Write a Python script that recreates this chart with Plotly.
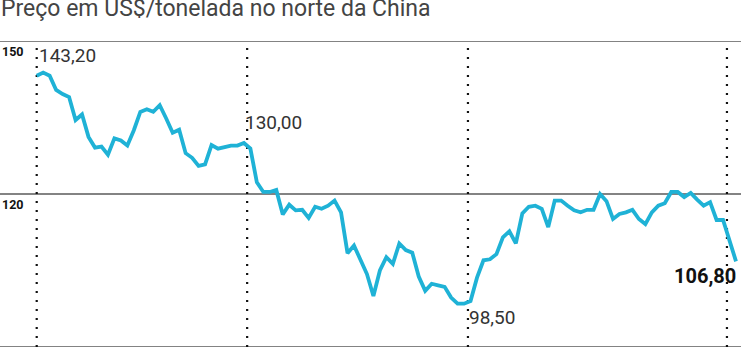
import plotly.graph_objects as go

# Weekly price, US$/tonelada (norte da China)
precos = [
    143.2, 143.8, 143.2, 140.4, 139.6, 139.0, 134.5, 135.6, 131.2, 129.1,
    129.3, 127.7, 130.9, 130.5, 129.5, 132.5, 136.1, 136.6, 136.1, 137.4,
    134.8, 132.0, 132.6, 128.0, 127.1, 125.5, 125.8, 129.6, 128.9, 129.2,
    129.5, 129.5, 130.0, 128.9, 122.3, 120.4, 120.4, 120.8, 116.0, 117.9,
    116.8, 116.9, 115.3, 117.5, 117.1, 117.7, 118.7, 116.4, 108.4, 109.9,
    107.2, 104.3, 100.0, 105.0, 107.6, 106.3, 110.3, 109.0, 108.5, 103.8,
    101.0, 102.4, 102.1, 101.8, 99.7, 98.5, 98.5, 99.0, 103.6, 107.0,
    107.2, 108.2, 111.5, 112.7, 110.3, 116.2, 117.5, 117.7, 117.1, 113.5,
    118.7, 118.7, 117.7, 116.8, 116.4, 116.9, 116.9, 120.0, 118.6, 115.1,
    116.1, 116.4, 116.9, 115.1, 114.1, 116.4, 117.7, 118.2, 120.4, 120.4,
    119.4, 120.2, 118.9, 117.7, 118.4, 114.9, 114.9, 110.8, 106.8,
]
semanas = list(range(len(precos)))

marcos = [0, 32.5, 66.6, 106.6]          # dotted reference lines (week position)
y_ticks = [150, 120]
y_tick_labels = ["150", "120"]
y_range = [90, 150]

destaques = [  # (week index, label, bold)
    (0, "143,20", False),
    (32, "130,00", False),
    (66, "98,50", False),
    (108, "106,80", True),
]

titulo = "Preço em US$/tonelada no norte da China"

LINE_COLOR = "#1fb2d6"
GRID_COLOR = "#5a5a5a"
TXT = "#333333"

fig = go.Figure()
fig.add_trace(go.Scatter(
    x=semanas, y=precos, mode="lines",
    line=dict(color=LINE_COLOR, width=3.8, shape="linear"),
    hoverinfo="skip", showlegend=False,
))

shapes = []
# horizontal rules
for v in [150, 120, 90]:
    shapes.append(dict(type="line", xref="paper", yref="y", x0=0, x1=0.988,
                       y0=v, y1=v, line=dict(color=GRID_COLOR, width=1.5), layer="below"))
# dotted vertical markers
for m in marcos:
    shapes.append(dict(type="line", xref="x", yref="paper", x0=m, x1=m,
                       y0=0, y1=0.985, line=dict(color="#111111", width=2.2, dash="2px,7px"),
                       layer="below"))

annotations = []
for t, lab in zip(y_ticks, y_tick_labels):
    annotations.append(dict(x=0.0, xref="paper", y=t, yref="y", text="<b>" + lab + "</b>",
                            showarrow=False, xanchor="left", yanchor="top",
                            font=dict(family="Roboto", size=12.5, color="#111111"), yshift=-1))

offsets = {
    0: dict(xanchor="left", xshift=0, yshift=20),
    32: dict(xanchor="left", xshift=-1, yshift=21),
    66: dict(xanchor="left", xshift=3, yshift=-14),
    108: dict(xanchor="right", xshift=2, yshift=-15),
}
for idx, lab, bold in destaques:
    o = offsets[idx]
    annotations.append(dict(
        x=semanas[idx], y=precos[idx], xref="x", yref="y",
        text=("<b>%s</b>" % lab) if bold else lab,
        showarrow=False, xanchor=o["xanchor"], yanchor="middle",
        xshift=o["xshift"], yshift=o["yshift"],
        font=dict(family="Roboto", size=20 if bold else 19,
                  color="#111111" if bold else TXT),
    ))

annotations.append(dict(x=-0.002, xref="paper", y=1.106, yref="paper", text=titulo,
                        showarrow=False, xanchor="left", yanchor="middle",
                        font=dict(family="Roboto", size=23, color="#444444")))

fig.update_layout(
    width=750, height=350,
    margin=dict(l=0, r=0, t=41, b=3),
    paper_bgcolor="white", plot_bgcolor="white",
    xaxis=dict(range=[-5.67, 110.16], visible=False, fixedrange=True),
    yaxis=dict(range=y_range, visible=False, fixedrange=True),
    shapes=shapes, annotations=annotations,
    showlegend=False,
)

fig.write_html("out.html", config={"displayModeBar": False})
